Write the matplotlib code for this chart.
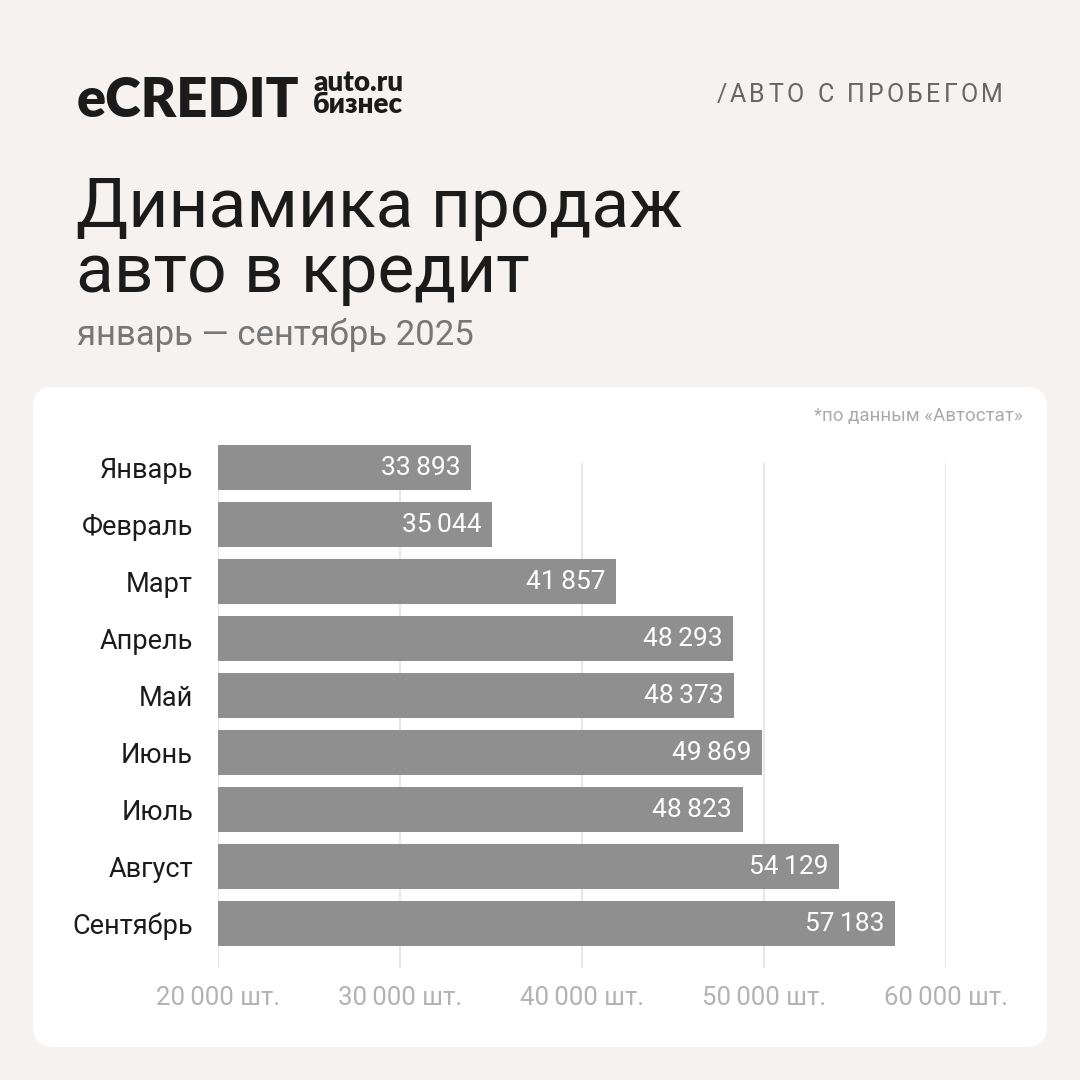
import matplotlib
matplotlib.use("Agg")
import matplotlib.pyplot as plt
from matplotlib.patches import FancyBboxPatch

plt.rcParams['font.family'] = ['Roboto', 'DejaVu Sans']

# ---------- data
months = ['Январь', 'Февраль', 'Март', 'Апрель', 'Май', 'Июнь', 'Июль', 'Август', 'Сентябрь']
sales = [33893, 35044, 41857, 48293, 48373, 49869, 48823, 54129, 57183]
ticks = [20000, 30000, 40000, 50000, 60000]
tick_labels = ['20\u2009000 шт.', '30\u2009000 шт.', '40\u2009000 шт.', '50\u2009000 шт.', '60\u2009000 шт.']

bg = '#f6f2ef'
bar_col = '#8f8f8f'
W = H = 1080.0

fig = plt.figure(figsize=(10.8, 10.8), dpi=100, facecolor=bg)

# white card
card = FancyBboxPatch((33 / W, 1 - 1047 / H), (1047 - 33) / W, (1047 - 387) / H,
                      boxstyle='round,pad=0,rounding_size=0.019', transform=fig.transFigure,
                      facecolor='white', edgecolor='none', zorder=-5)
fig.patches.append(card)

# ---------- header
fig.text(77 / W, 1 - 117 / H, 'eCREDIT', fontsize=39, fontweight='heavy', family=['Lato', 'DejaVu Sans'],
         color='#1b1b1b', ha='left', va='baseline')
fig.text(313 / W, 1 - 113 / H, 'auto.ru\nбизнес', fontsize=20, fontweight='heavy', family=['Lato', 'DejaVu Sans'],
         color='#1b1b1b', ha='left', va='baseline', linespacing=0.82)

# tracked caps on the right
header = '/АВТО С ПРОБЕГОМ'
renderer = fig.canvas.get_renderer()
track = 3.2
widths = []
for ch in header:
    t = fig.text(0, 0, ch if ch != ' ' else 'i', fontsize=18)
    bb = t.get_window_extent(renderer)
    widths.append(bb.width if ch != ' ' else bb.width * 1.2)
    t.remove()
total = sum(widths) + track * (len(header) - 1)
x = 1003 - total
for ch, w in zip(header, widths):
    fig.text(x / W, 1 - 102 / H, ch, fontsize=18, color='#666666', ha='left', va='baseline')
    x += w + track

fig.text(76 / W, 1 - 227 / H, 'Динамика продаж', fontsize=50, color='#1b1b1b', ha='left', va='baseline')
fig.text(76 / W, 1 - 292 / H, 'авто в кредит', fontsize=50, color='#1b1b1b', ha='left', va='baseline')
fig.text(77 / W, 1 - 345 / H, 'январь — сентябрь 2025', fontsize=25, color='#777777', ha='left', va='baseline')
fig.text(1023 / W, 1 - 421 / H, '*по данным «Автостат»', fontsize=13.5, color='#aaaaaa', ha='right', va='baseline')

# ---------- chart
ax = fig.add_axes([218 / W, 1 - 968 / H, 728 / W, (968 - 463) / H])
ax.set_facecolor('none')
ypos = list(range(len(months)))
ax.barh(ypos, [s - ticks[0] for s in sales], left=ticks[0], height=0.79, color=bar_col,
        zorder=2, clip_on=False)
for y, s in zip(ypos, sales):
    lab = f'{s:,}'.replace(',', '\u2009')
    ax.annotate(lab, (s, y), xytext=(-7.5, 0), textcoords='offset points', ha='right', va='center',
                color='white', fontsize=19, zorder=3)

ax.set_xlim(ticks[0], ticks[-1])
ax.set_ylim(8.78, -0.079)
ax.set_xticks(ticks)
ax.set_xticklabels(tick_labels, fontsize=18.5, color='#b3b3b3')
ax.set_yticks(ypos)
ax.set_yticklabels(months, fontsize=19.5, color='#1b1b1b')
ax.tick_params(axis='x', length=0, pad=13)
ax.tick_params(axis='y', length=0, pad=18)
ax.grid(axis='x', color='#e8e8e8', linewidth=1.6, zorder=1)
ax.set_axisbelow(True)
for sp in ax.spines.values():
    sp.set_visible(False)

fig.savefig('out.png', dpi=100, facecolor=bg)
